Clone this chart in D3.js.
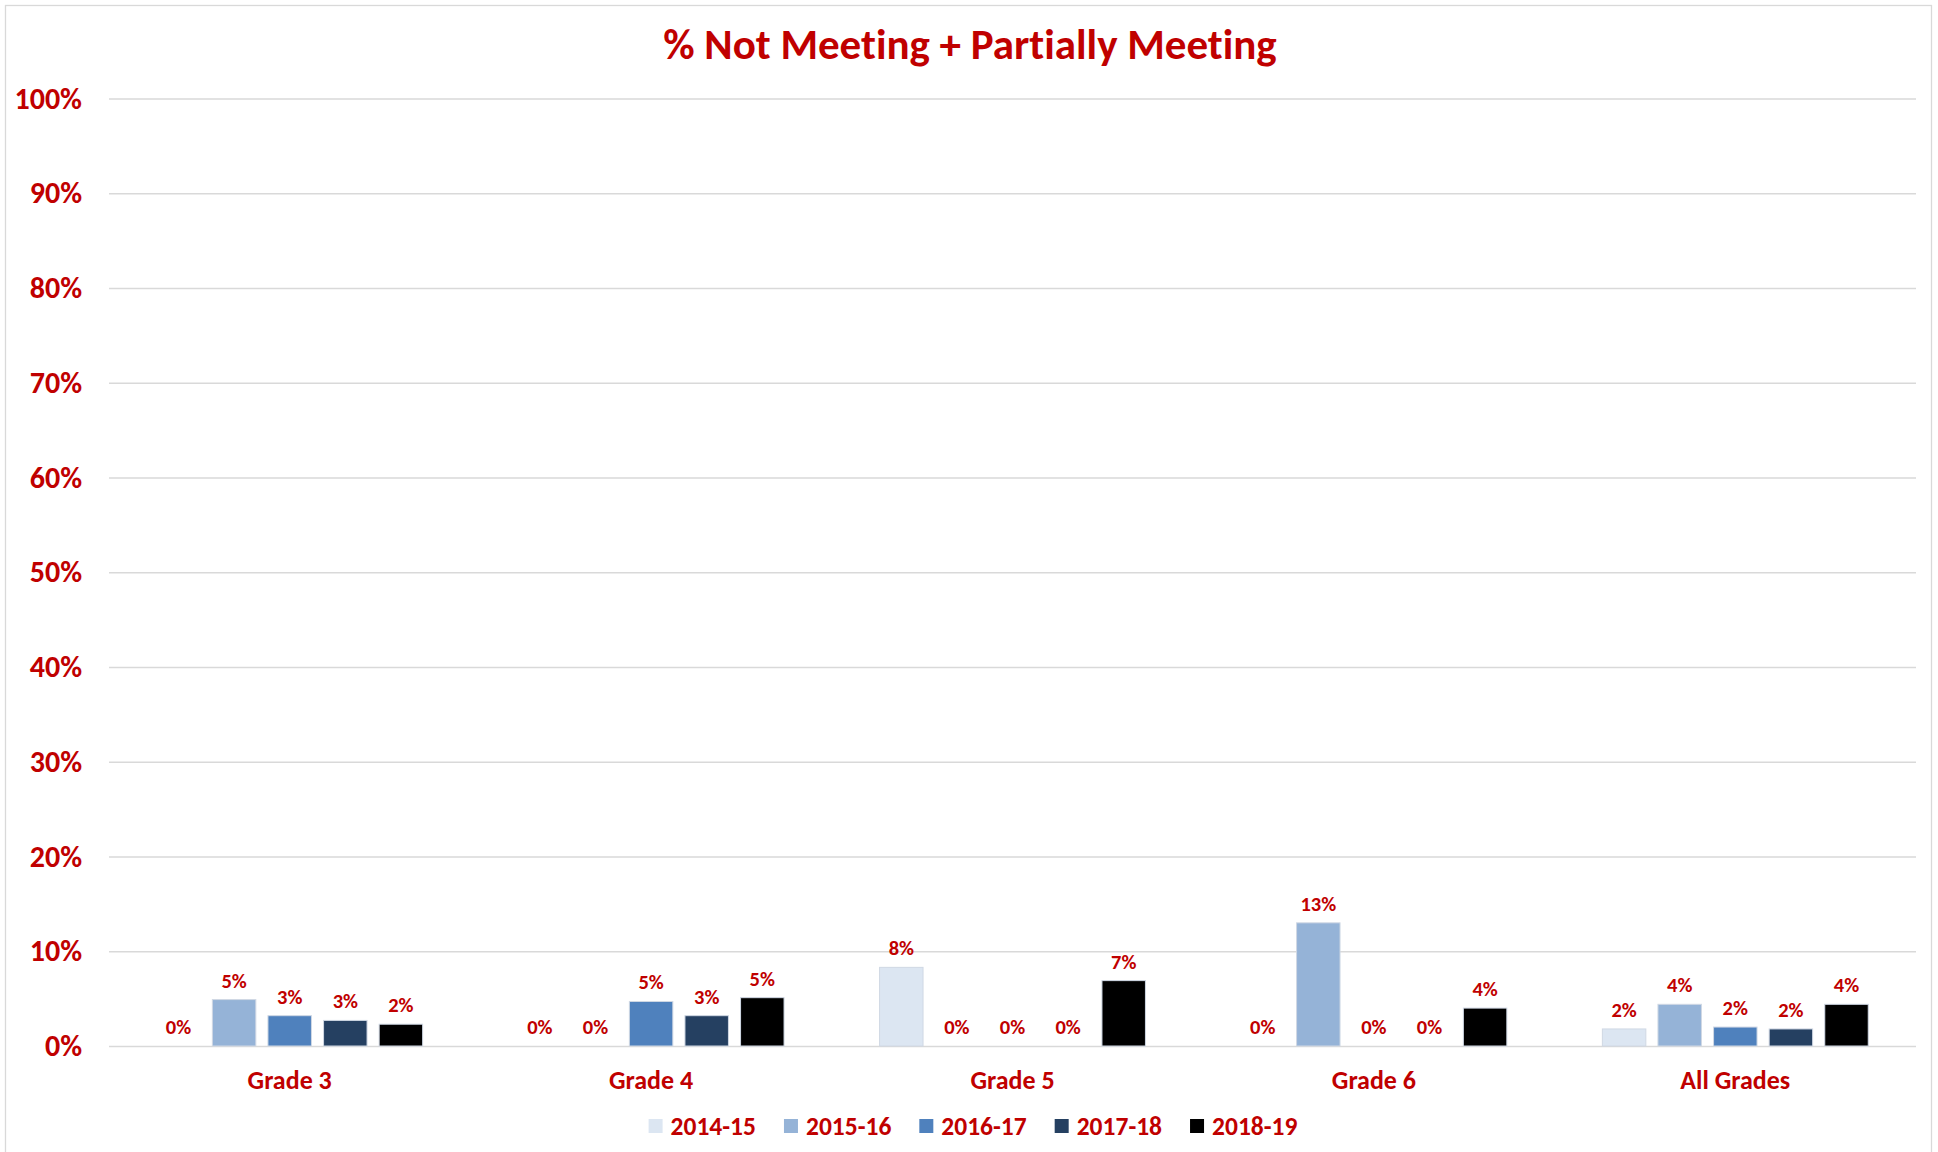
<!DOCTYPE html>
<html>
<head>
<meta charset="utf-8">
<script src="https://cdn.jsdelivr.net/npm/d3@7"></script>
<style>
  html, body { margin: 0; padding: 0; background: #fff; }
  svg { display: block; }
  text { font-family: Carlito, Calibri, Lato, sans-serif; font-weight: 700; fill: #c00000; font-variant-ligatures: none; }
</style>
</head>
<body>
<script>
const categories = ["Grade 3", "Grade 4", "Grade 5", "Grade 6", "All Grades"];
const seriesNames = ["2014-15", "2015-16", "2016-17", "2017-18", "2018-19"];
const s2014_15 = [0.000, 0.000, 0.083, 0.000, 0.018];
const s2015_16 = [0.049, 0.000, 0.000, 0.130, 0.044];
const s2016_17 = [0.032, 0.047, 0.000, 0.000, 0.020];
const s2017_18 = [0.027, 0.032, 0.000, 0.000, 0.018];
const s2018_19 = [0.023, 0.051, 0.069, 0.040, 0.044];
const seriesValues = [s2014_15, s2015_16, s2016_17, s2017_18, s2018_19];
const seriesColors = ["#dce6f2", "#95b3d7", "#4f81bd", "#254061", "#000000"];
const yTicks = [0, 0.1, 0.2, 0.3, 0.4, 0.5, 0.6, 0.7, 0.8, 0.9, 1.0];
const titleText = "% Not Meeting + Partially Meeting";

const W = 1938, H = 1152;
const plot = { left: 109, right: 1916, top: 98.5, bottom: 1046 };

const svg = d3.select("body").append("svg").attr("width", W).attr("height", H);
svg.append("rect").attr("x", 0).attr("y", 0).attr("width", W).attr("height", H).attr("fill", "#fff");
svg.append("rect").attr("x", 5.5).attr("y", 5.5).attr("width", 1926).attr("height", 1170)
  .attr("fill", "none").attr("stroke", "#d9d9d9").attr("stroke-width", 1.3);

const y = d3.scaleLinear().domain([0, 1]).range([plot.bottom, plot.top]);
const x0 = d3.scaleBand().domain(categories).range([plot.left, plot.right]).paddingInner(0).paddingOuter(0);
const x1 = d3.scaleBand().domain(seriesNames).range([0, x0.bandwidth()]).paddingInner(0.218).paddingOuter(0.859);

// gridlines + y tick labels
const yAxis = d3.axisLeft(y).tickValues(yTicks).tickFormat(d3.format(".0%"))
  .tickSize(-(plot.right - plot.left)).tickPadding(27);
const gy = svg.append("g").attr("transform", `translate(${plot.left},0)`).call(yAxis);
gy.select(".domain").remove();
gy.selectAll(".tick line").attr("stroke", "#d9d9d9").attr("stroke-width", 1.3);
gy.selectAll(".tick text").attr("font-size", 30).attr("fill", "#c00000")
  .style("font-family", "Carlito, Calibri, Lato, sans-serif").style("font-weight", 700);

// bars
const groups = svg.append("g").selectAll("g").data(categories).join("g")
  .attr("transform", d => `translate(${x0(d)},0)`);

const cellData = (c, ci) => seriesNames.map((s, si) => ({ s, si, v: seriesValues[si][ci] }));

groups.each(function(c, ci) {
  const g = d3.select(this);
  const data = cellData(c, ci);
  g.selectAll("rect").data(data).join("rect")
    .attr("x", d => x1(d.s))
    .attr("width", x1.bandwidth())
    .attr("y", d => y(d.v))
    .attr("height", d => y(0) - y(d.v))
    .attr("fill", d => seriesColors[d.si])
    .attr("stroke", d => d.v > 0 ? "#d0d8e4" : "none")
    .attr("stroke-width", 1);
  g.selectAll("text.lbl").data(data).join("text").attr("class", "lbl")
    .attr("x", d => x1(d.s) + x1.bandwidth() / 2)
    .attr("y", d => y(d.v) - 12)
    .attr("text-anchor", "middle")
    .attr("font-size", 20.5)
    .text(d => d3.format(".0%")(d.v));
});

// category labels
svg.append("g").selectAll("text").data(categories).join("text")
  .attr("x", d => x0(d) + x0.bandwidth() / 2)
  .attr("y", 1089)
  .attr("text-anchor", "middle")
  .attr("font-size", 26)
  .text(d => d);

// title
svg.append("text").attr("x", 970).attr("y", 59).attr("text-anchor", "middle")
  .attr("font-size", 43).text(titleText);

// legend
const legend = svg.append("g");
const items = legend.selectAll("g").data(seriesNames).join("g");
items.append("rect").attr("width", 14).attr("height", 14).attr("y", -7)
  .attr("fill", (d, i) => seriesColors[i]);
items.append("text").attr("x", 22).attr("y", 9).attr("font-size", 25.5).text(d => d);
let cx = 0;
items.each(function() {
  const w = this.querySelector("text").getComputedTextLength();
  d3.select(this).attr("transform", `translate(${cx},0)`);
  cx += 22 + w + 28;
});
const legendW = cx - 28;
legend.attr("transform", `translate(${973 - legendW / 2},1126)`);
</script>
</body>
</html>
